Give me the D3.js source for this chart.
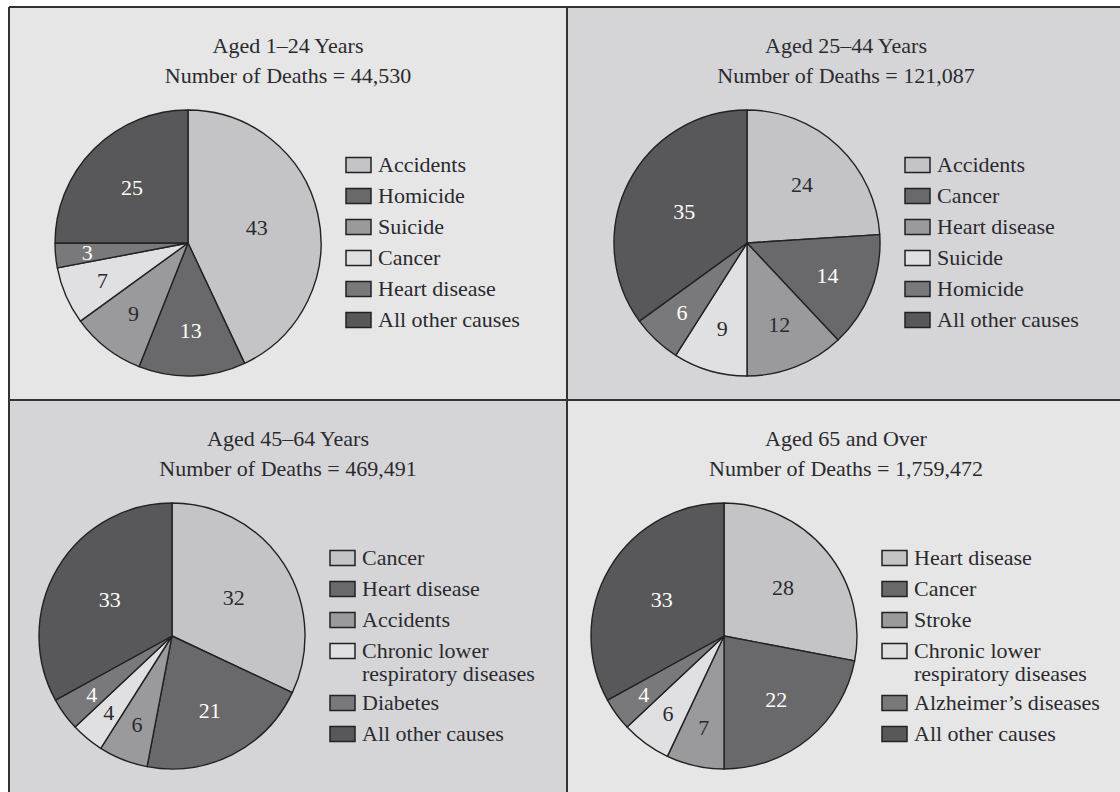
<!DOCTYPE html>
<html>
<head>
<meta charset="utf-8">
<script src="https://cdn.jsdelivr.net/npm/d3@7"></script>
<style>
  body { margin: 0; background: #fff; }
  svg text { font-family: "Liberation Serif", "Times New Roman", serif; }
</style>
</head>
<body>
<svg id="chart"></svg>
<script>
// Leading causes of death by age group, percent of deaths

const ageGroups = ["Aged 1–24 Years", "Aged 25–44 Years", "Aged 45–64 Years", "Aged 65 and Over"];
const totalDeaths = ["44,530", "121,087", "469,491", "1,759,472"];

const causes1 = ["Accidents", "Homicide", "Suicide", "Cancer", "Heart disease", "All other causes"];
const values1 = [43, 13, 9, 7, 3, 25];

const causes2 = ["Accidents", "Cancer", "Heart disease", "Suicide", "Homicide", "All other causes"];
const values2 = [24, 14, 12, 9, 6, 35];

const causes3 = ["Cancer", "Heart disease", "Accidents", "Chronic lower\nrespiratory diseases", "Diabetes", "All other causes"];
const values3 = [32, 21, 6, 4, 4, 33];

const causes4 = ["Heart disease", "Cancer", "Stroke", "Chronic lower\nrespiratory diseases", "Alzheimer’s diseases", "All other causes"];
const values4 = [28, 22, 7, 6, 4, 33];

const allCauses = [causes1, causes2, causes3, causes4];
const allValues = [values1, values2, values3, values4];

// slice shades by rank, and which ranks get white numbers
const shades = ["#c4c4c6", "#69696b", "#9a9a9c", "#e0e0e2", "#79797b", "#58585a"];
const whiteText = [false, true, false, false, true, true];
const panelFills = ["#e6e6e6", "#d5d5d7", "#d5d5d7", "#e6e6e6"];

const width = 1120, height = 792;
const colX = [9, 567], rowY = [7, 400];
const panelW = 558, panelH = 393;
const pieX = [[179, 180], [163, 157]];   // pie centre offset inside each panel, by row / col
const radius = 133;
const ink = "#2a2a30";
const fontSize = 22;

const svg = d3.select("#chart").attr("width", width).attr("height", height);

const pie = d3.pie().sort(null).value(d => d);
const arc = d3.arc().innerRadius(0).outerRadius(radius);

// bigger slices keep their number nearer the middle
const labelR = d3.scaleLinear()
    .domain([3, 9, 20, 35])
    .range([0.76, 0.67, 0.63, 0.53])
    .clamp(true);

ageGroups.forEach((title, i) => {
    const col = i % 2, row = Math.floor(i / 2);
    const px = colX[col], py = rowY[row];
    const g = svg.append("g").attr("transform", `translate(${px},${py})`);

    g.append("rect")
        .attr("width", panelW + 20)
        .attr("height", panelH + 20)
        .attr("fill", panelFills[i]);

    // title
    const tx = panelW / 2;
    g.append("text")
        .attr("x", tx).attr("y", 46)
        .attr("text-anchor", "middle")
        .attr("font-size", fontSize)
        .attr("fill", ink)
        .text(title);
    g.append("text")
        .attr("x", tx).attr("y", 76)
        .attr("text-anchor", "middle")
        .attr("font-size", fontSize)
        .attr("fill", ink)
        .text(`Number of Deaths = ${totalDeaths[i]}`);

    // pie
    const cx = pieX[row][col], cy = 236;
    const pg = g.append("g").attr("transform", `translate(${cx},${cy})`);
    const arcs = pie(allValues[i]);

    pg.selectAll("path")
        .data(arcs)
        .join("path")
        .attr("d", arc)
        .attr("fill", (d, k) => shades[k])
        .attr("stroke", "#222")
        .attr("stroke-width", 1.4)
        .attr("stroke-linejoin", "round");

    pg.selectAll("text")
        .data(arcs)
        .join("text")
        .attr("transform", d => {
            const a = (d.startAngle + d.endAngle) / 2;
            const r = radius * labelR(d.data);
            return `translate(${Math.sin(a) * r},${-Math.cos(a) * r})`;
        })
        .attr("text-anchor", "middle")
        .attr("dy", "0.35em")
        .attr("font-size", fontSize)
        .attr("fill", (d, k) => whiteText[k] ? "#ffffff" : ink)
        .text(d => d.data);

    // legend
    const lx = cx + 158;
    let ly = cy - 78;
    allCauses[i].forEach((name, k) => {
        const lines = name.split("\n");
        g.append("rect")
            .attr("x", lx).attr("y", ly - 7.5)
            .attr("width", 25).attr("height", 15)
            .attr("fill", shades[k])
            .attr("stroke", "#222")
            .attr("stroke-width", 1.5);
        const t = g.append("text")
            .attr("x", lx + 32).attr("y", ly + 7)
            .attr("font-size", fontSize)
            .attr("fill", ink);
        lines.forEach((ln, j) => {
            t.append("tspan")
                .attr("x", lx + 32)
                .attr("dy", j === 0 ? 0 : 23)
                .text(ln);
        });
        ly += 31 + (lines.length - 1) * 21;
    });
});

// frame and dividers
const frame = svg.append("g")
    .attr("stroke", "#333")
    .attr("stroke-width", 2)
    .attr("fill", "none");
frame.append("line").attr("x1", colX[0]).attr("x2", width).attr("y1", rowY[0]).attr("y2", rowY[0]);
frame.append("line").attr("x1", colX[0]).attr("x2", width).attr("y1", rowY[1]).attr("y2", rowY[1]);
frame.append("line").attr("x1", colX[0]).attr("x2", colX[0]).attr("y1", rowY[0]).attr("y2", height);
frame.append("line").attr("x1", colX[1]).attr("x2", colX[1]).attr("y1", rowY[0]).attr("y2", height);
</script>
</body>
</html>
